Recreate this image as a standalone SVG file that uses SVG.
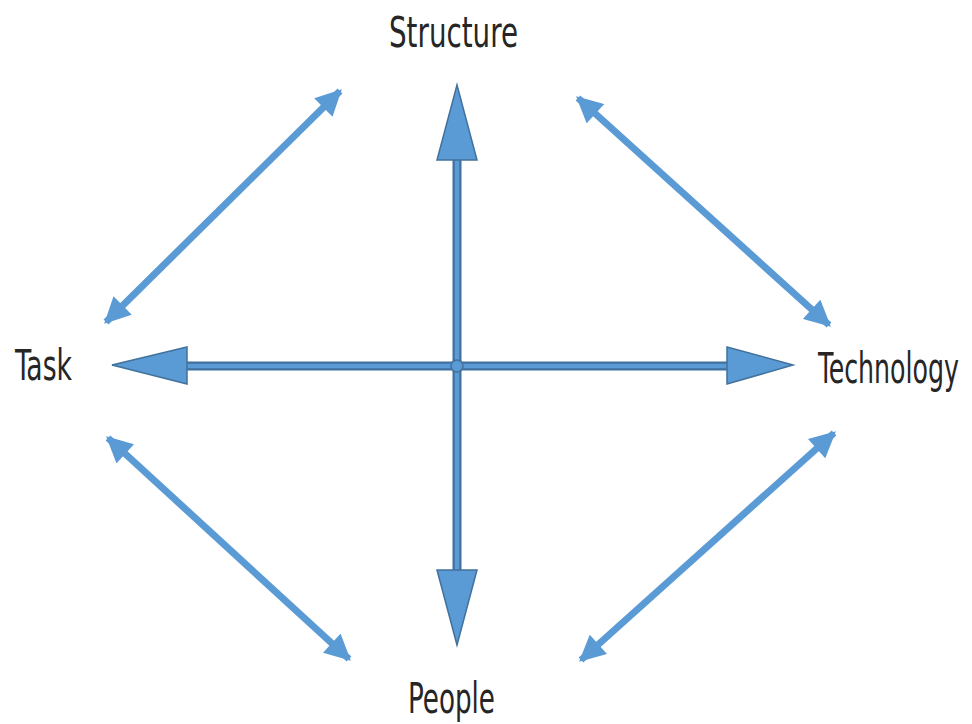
<svg xmlns="http://www.w3.org/2000/svg" width="972" height="724" viewBox="0 0 972 724">
<style>
.lbl{font-family:"Liberation Sans Narrow","DejaVu Sans Condensed","Liberation Sans",sans-serif;font-size:43px;fill:#262626}
.diag{stroke:#5b9bd5;stroke-width:7;fill:none}
.shaft{stroke:#41719c;stroke-width:9;fill:none}
.shaftin{stroke:#5b9bd5;stroke-width:4.5;fill:none}
.head{fill:#5b9bd5;stroke:#41719c;stroke-width:1.5;stroke-linejoin:miter}
</style>
<defs>
<marker id="dh" viewBox="0 0 10 10" refX="9" refY="5" markerWidth="27" markerHeight="26" markerUnits="userSpaceOnUse" orient="auto-start-reverse">
<path d="M0,0 L10,5 L0,10 Z" fill="#5b9bd5"/>
</marker>
</defs>
<rect width="972" height="724" fill="#ffffff"/>
<g id="connectors">
<line class="diag" x1="340" y1="91" x2="106" y2="322" marker-start="url(#dh)" marker-end="url(#dh)"/>
<line class="diag" x1="578" y1="98" x2="829" y2="325" marker-start="url(#dh)" marker-end="url(#dh)"/>
<line class="diag" x1="108" y1="438" x2="349" y2="659" marker-start="url(#dh)" marker-end="url(#dh)"/>
<line class="diag" x1="834" y1="433" x2="581" y2="660" marker-start="url(#dh)" marker-end="url(#dh)"/>
<g id="cross">
<line class="shaft" x1="457" y1="158" x2="457" y2="572"/>
<line class="shaft" x1="185" y1="366" x2="729" y2="366"/>
<line class="shaftin" x1="457" y1="158" x2="457" y2="572"/>
<line class="shaftin" x1="185" y1="366" x2="729" y2="366"/>
<polygon class="head" points="457,85 477,160 437,160"/>
<polygon class="head" points="457,645 477,570 437,570"/>
<polygon class="head" points="112,365 187,347 187,384"/>
<polygon class="head" points="793,365 727,347 727,384"/>
<circle cx="457" cy="366" r="6" fill="#5b9bd5" stroke="#41719c" stroke-width="1.5"/>
</g>
</g>
<g id="node-structure"><text class="lbl" x="389" y="47" textLength="129" lengthAdjust="spacingAndGlyphs">Structure</text></g>
<g id="node-task"><text class="lbl" x="15" y="380" textLength="57" lengthAdjust="spacingAndGlyphs">Task</text></g>
<g id="node-technology"><text class="lbl" x="0" y="0" style="font-size:26px" textLength="141" lengthAdjust="spacingAndGlyphs" transform="translate(818,383) scale(1,1.65)">Technology</text></g>
<g id="node-people"><text class="lbl" x="408" y="713" textLength="87" lengthAdjust="spacingAndGlyphs">People</text></g>
</svg>
